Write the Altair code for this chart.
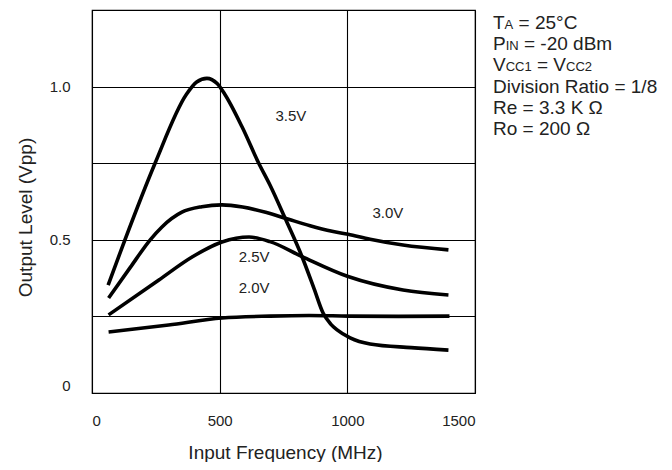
import altair as alt
import pandas as pd

# ---- data ----
series_names = ["3.5V", "3.0V", "2.5V", "2.0V"]

freq_35 = [63, 129, 247, 370, 410, 450, 490, 520, 588, 653, 697, 756, 823, 870, 905, 935, 960, 1011, 1089, 1250, 1396]
vpp_35 = [0.352, 0.5, 0.75, 0.975, 1.015, 1.027, 1.01, 0.975, 0.868, 0.75, 0.679, 0.571, 0.444, 0.34, 0.261, 0.225, 0.206, 0.18, 0.16, 0.148, 0.14]

freq_30 = [65, 150, 228, 274, 352, 430, 509, 590, 680, 770, 854, 940, 1003, 1089, 1218, 1396]
vpp_30 = [0.31, 0.41, 0.5, 0.542, 0.59, 0.608, 0.614, 0.607, 0.59, 0.567, 0.546, 0.528, 0.518, 0.502, 0.483, 0.467]

freq_25 = [65, 262, 392, 509, 615, 697, 823, 1003, 1218, 1396]
vpp_25 = [0.255, 0.369, 0.444, 0.493, 0.509, 0.494, 0.445, 0.38, 0.336, 0.32]

freq_20 = [65, 300, 509, 697, 850, 1003, 1200, 1400]
vpp_20 = [0.199, 0.222, 0.245, 0.251, 0.253, 0.251, 0.25, 0.251]

label_text = ["3.5V", "3.0V", "2.5V", "2.0V"]
label_freq = [779, 1159, 635, 635]
label_vpp = [0.904, 0.587, 0.444, 0.343]

x_ticks = [0, 500, 1000, 1500]
y_ticks = [0, 0.25, 0.5, 0.75, 1.0]

# condition block: list of lines, each a list of (text, is_subscript);
# a leading space in a segment is turned into a gap (text marks trim it)
cond_lines = [
    [("T", False), ("A", True), (" = 25°C", False)],
    [("P", False), ("IN", True), (" = -20 dBm", False)],
    [("V", False), ("CC1", True), (" = V", False), ("CC2", True)],
    [("Division Ratio = 1/8", False)],
    [("Re = 3.3 K Ω", False)],
    [("Ro = 200 Ω", False)],
]

# ---- build tables ----
rows = []
for name, fs, vs in [("3.5V", freq_35, vpp_35), ("3.0V", freq_30, vpp_30),
                     ("2.5V", freq_25, vpp_25), ("2.0V", freq_20, vpp_20)]:
    for f, v in zip(fs, vs):
        rows.append({"series": name, "freq": f, "vpp": v})
curves = pd.DataFrame(rows)
labels = pd.DataFrame({"text": label_text, "freq": label_freq, "vpp": label_vpp})

W, H = 383, 383
FONT = "Liberation Sans"
TXT = "#222222"

xscale = alt.Scale(domain=[0, 1500], nice=False, zero=False)
yscale = alt.Scale(domain=[0, 1.25], nice=False, zero=False)

lines = alt.Chart(curves).mark_line(
    interpolate="monotone", color="black", strokeWidth=3.6, strokeCap="butt"
).encode(
    x=alt.X("freq:Q", scale=xscale, axis=alt.Axis(
        values=x_ticks, format="d", grid=True, ticks=False, tickSize=0, domain=False,
        labelPadding=20, labelFontSize=15, labelColor=TXT, labelFont=FONT,
        title="Input Frequency (MHz)", titleFontSize=19, titleFont=FONT,
        titleFontWeight="normal", titleColor=TXT,
        titleX=193, titleY=59, titleBaseline="middle", titleAlign="center",
    )),
    y=alt.Y("vpp:Q", scale=yscale, axis=alt.Axis(
        values=y_ticks, grid=True, ticks=False, tickSize=0, domain=False,
        labelExpr="datum.value == 0 ? '0' : (datum.value == 0.5 || datum.value == 1) ? format(datum.value, '.1f') : ''",
        labelFlush=True,
        labelPadding=22, labelFontSize=15, labelColor=TXT, labelFont=FONT,
        title="Output Level (Vpp)", titleFontSize=19, titleFont=FONT,
        titleFontWeight="normal", titleColor=TXT,
        titleX=-67, titleY=207, titleBaseline="middle", titleAlign="center", titleAngle=-90,
    )),
    detail="series:N",
)

texts = alt.Chart(labels).mark_text(
    fontSize=15, font=FONT, color=TXT, align="center", baseline="middle"
).encode(
    x=alt.X("freq:Q", scale=xscale),
    y=alt.Y("vpp:Q", scale=yscale),
    text="text:N",
)

# Arial/Liberation Sans advance widths (em) for laying out subscript segments
adv = {"T": .611, "A": .667, " ": .278, "=": .584, "2": .556, "5": .556, "°": .4,
       "C": .722, "P": .667, "I": .278, "N": .722, "-": .333, "0": .556, "d": .556,
       "B": .667, "m": .833, "V": .667, "1": .556}
MAIN, SUB = 19, 13
X0, Y0, DY = 401, 19, 21.2
layers = [lines, texts]
for i, segs in enumerate(cond_lines):
    xpos = X0
    for seg, sub in segs:
        size = SUB if sub else MAIN
        while seg.startswith(" "):
            xpos += adv[" "] * size
            seg = seg[1:]
        layers.append(
            alt.Chart(pd.DataFrame({"t": [seg]})).mark_text(
                fontSize=size, font=FONT, color=TXT, align="left", baseline="alphabetic"
            ).encode(text="t:N", x=alt.value(xpos), y=alt.value(Y0 + i * DY))
        )
        xpos += sum(adv.get(c, .556) for c in seg) * size

chart = alt.layer(*layers).properties(
    width=W, height=H,
    padding={"left": 84, "top": 2, "right": 189, "bottom": 69},
    autosize="none",
).configure_view(
    stroke="black", strokeWidth=1.2
).configure_axis(
    gridColor="black", gridWidth=1.1, gridOpacity=1
)

chart.save("out.html", embed_options={"renderer": "svg", "actions": False})
